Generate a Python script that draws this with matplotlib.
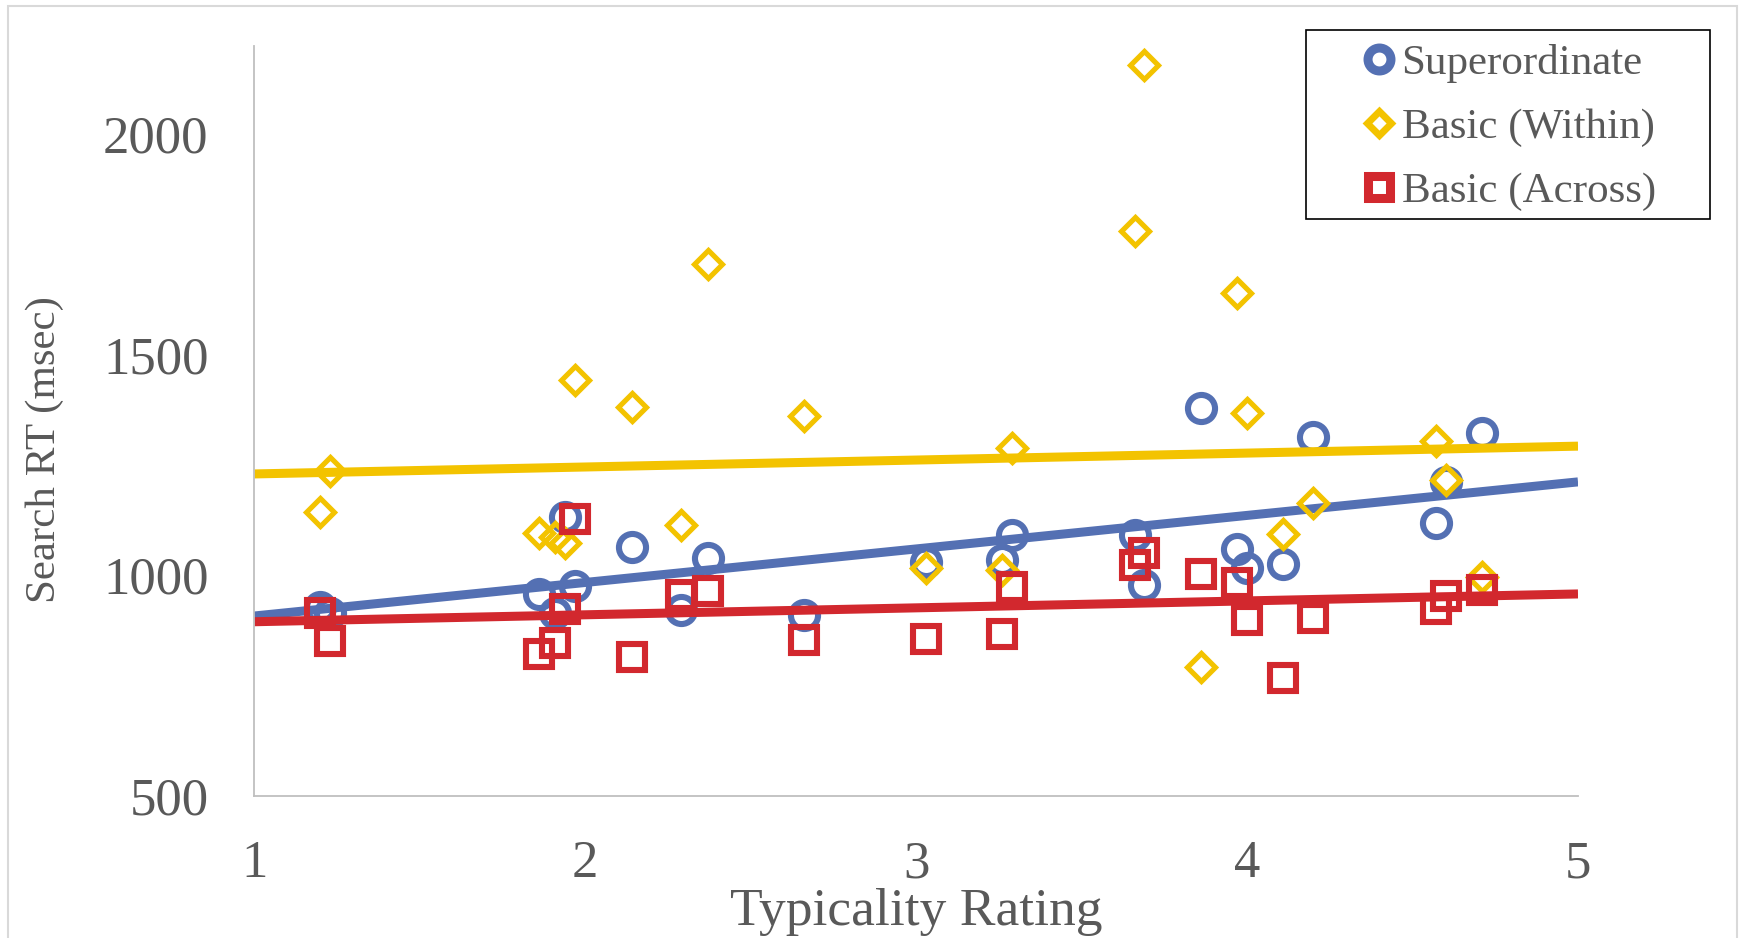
import matplotlib
matplotlib.use("Agg")
import matplotlib.pyplot as plt
from matplotlib.patches import Rectangle

# typicality rating of each item (shared by the three conditions)
typicality = [1.20, 1.23, 1.86, 1.91, 1.94, 1.97, 2.14, 2.29, 2.37, 2.66,
              3.03, 3.26, 3.29, 3.66, 3.69, 3.86, 3.97, 4.00, 4.11, 4.20,
              4.57, 4.60, 4.71]

# search RT in msec
superordinate = [929, 914, 959, 914, 1133, 976, 1064, 921, 1040, 910,
                 1031, 1035, 1091, 1091, 978, 1380, 1061, 1016, 1025, 1313,
                 1119, 1212, 1323]
basic_within = [1144, 1237, 1097, 1088, 1073, 1443, 1382, 1115, 1705, 1361,
                1016, 1012, 1288, 1781, 2156, 792, 1639, 1369, 1094, 1165,
                1304, 1216, 997]
basic_across = [915, 852, 823, 847, 924, 1128, 816, 955, 965, 853,
                855, 867, 973, 1023, 1050, 1003, 982, 900, 768, 903,
                925, 953, 968]

# linear trend lines at x = 1 and x = 5
trend_x = [1, 5]
trend_super = [908, 1212]
trend_within = [1230, 1293]
trend_across = [895, 958]

labels = ["Superordinate", "Basic (Within)", "Basic (Across)"]
x_ticks = [1, 2, 3, 4, 5]
y_ticks = [500, 1000, 1500, 2000]

blue = "#5470B3"
gold = "#F3C300"
red = "#D2282E"
grey = "#595959"

plt.rcParams["font.family"] = ["Liberation Serif", "DejaVu Serif"]

fig = plt.figure(figsize=(17.41, 9.38), dpi=100)
ax = fig.add_axes([254.3 / 1741, 1 - 796 / 938, (1578 - 254.3) / 1741, (796 - 46) / 938])

series = [(superordinate, trend_super, blue, "o", 19.5, 4.4),
          (basic_within, trend_within, gold, "D", 14.3, 3.7),
          (basic_across, trend_across, red, "s", 19.0, 4.4)]

# each series: markers first, then its trend line on top
handles = []
for (vals, trend, col, mk, ms, mew), lab in zip(series, labels):
    h, = ax.plot(typicality, vals, linestyle="none", marker=mk, ms=ms,
                 mfc="none", mec=col, mew=mew, label=lab)
    ax.plot(trend_x, trend, color=col, lw=6.5, solid_capstyle="butt")
    handles.append(h)

ax.set_xlim(1, 5)
ax.set_ylim(500, 2200)
ax.set_xticks(x_ticks)
ax.set_yticks(y_ticks)
ax.tick_params(length=0, labelsize=38, labelcolor=grey)
ax.tick_params(axis="x", pad=32)
ax.tick_params(axis="y", pad=33)

for s in ["top", "right"]:
    ax.spines[s].set_visible(False)
for s in ["left", "bottom"]:
    ax.spines[s].set_color("#BFBFBF")
    ax.spines[s].set_linewidth(1.3)

fig.text(916 / 1741, 1 - 925 / 938, "Typicality Rating", fontsize=38.5,
         color=grey, ha="center", va="baseline")
fig.text(45 / 1741, 1 - 450 / 938, "Search RT (msec)", fontsize=31,
         color=grey, rotation=90, ha="center", va="center")

# legend, with its frame drawn separately
leg = ax.legend(handles=handles, loc="upper left", frameon=False,
                bbox_to_anchor=(1362 / 1741, 1 - 44 / 938),
                bbox_transform=fig.transFigure, borderpad=0, borderaxespad=0,
                handlelength=0.8, handletextpad=0.12, labelspacing=0.58,
                fontsize=31, labelcolor=grey)
# legend symbols are drawn with a heavier ring
for lh, ms, mew in zip(leg.legend_handles, [16.5, 12, 16.5], [6.5, 5, 6.5]):
    lh.set_markersize(ms)
    lh.set_markeredgewidth(mew)
fig.patches.append(Rectangle((1306 / 1741, 1 - 219 / 938), 404 / 1741, 189 / 938,
                             transform=fig.transFigure, fill=False,
                             edgecolor="black", lw=1.2))

# light outer border of the chart
fig.patches.append(Rectangle((8 / 1741, -0.02), 1729 / 1741, 1.02 - 6 / 938,
                             transform=fig.transFigure, fill=False,
                             edgecolor="#D9D9D9", lw=1.5))

fig.savefig("out.png", dpi=100)
